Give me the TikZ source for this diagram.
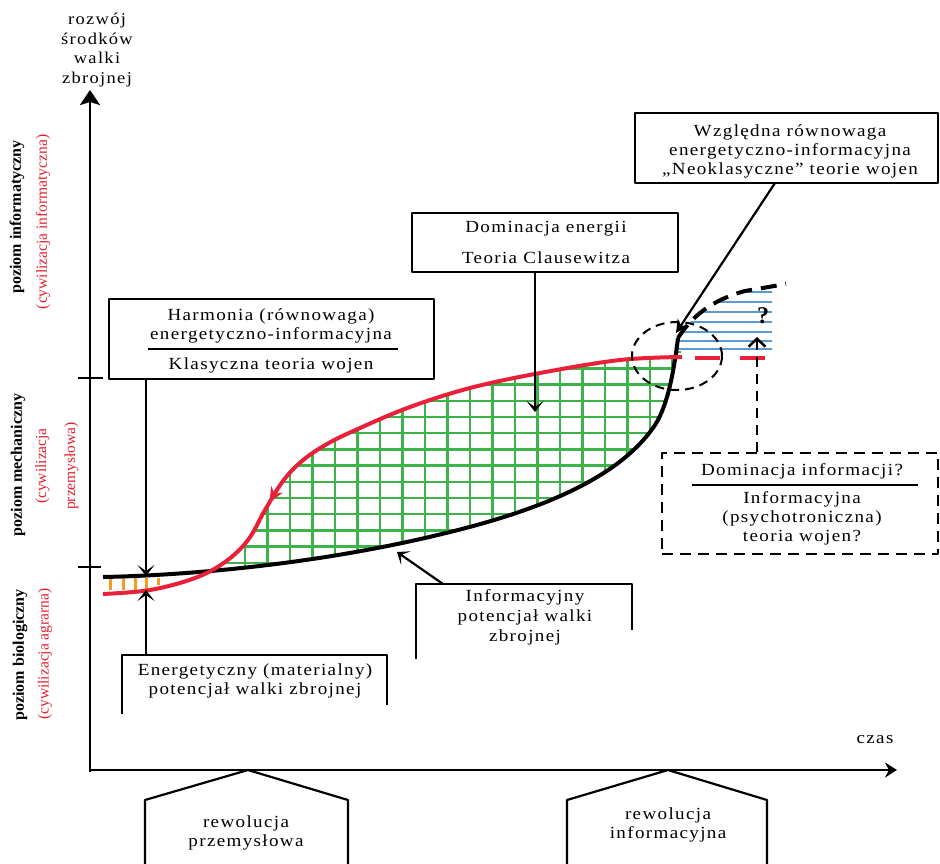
\documentclass[tikz,border=0pt]{standalone}
\usepackage{fontspec}
\setmainfont{Liberation Serif}
\newfontfamily\spfont[LetterSpace=8,FakeStretch=1.12]{Liberation Serif}
\usetikzlibrary{arrows.meta,decorations.markings,calc}
\definecolor{cred}{HTML}{E8203A}
\definecolor{lred}{HTML}{E5202E}
\definecolor{cgreen}{HTML}{3DB449}
\definecolor{cblue}{HTML}{5B9BD5}
\definecolor{corange}{HTML}{F39C1F}
\newcommand{\redpts}{(103,594) (150,590) (195,578) (225,562) (248,540) (265,510) (283,481) (302,461) (327,444) (360,428) (410,407) (470,388) (540,373) (620,360) (682,357)}
\begin{document}
\begin{tikzpicture}[x=1pt,y=-1pt,line join=round,
  txt/.style={font=\spfont\fontsize{17}{18.5}\selectfont,align=center,inner sep=0},
  smalltxt/.style={font=\spfont\fontsize{17}{19.5}\selectfont,align=center,inner sep=0},
  boxline/.style={line width=2.2pt},
  lvl/.style={font=\bfseries\fontsize{16}{18}\selectfont,rotate=90,inner sep=0},
  civ/.style={font=\fontsize{15.5}{29}\selectfont,text=lred,rotate=90,align=center,inner sep=0},
  conn/.style={line width=2.2pt},
  tipA/.style={-{Stealth[length=11pt,width=17pt,inset=6pt]}},
  redcurve/.style={cred,line width=4pt},
  blackcurve/.style={line width=4pt},
  grid/.style={cgreen,line width=2.3pt},
  bline/.style={cblue,line width=1.8pt}]
\useasboundingbox (0,0) rectangle (940,863);

% ---------- green grid between the curves ----------
\begin{scope}
  \clip (222,300) rectangle (700,600);
  \clip plot[smooth,tension=0.6] coordinates {\redpts}
        -- (678,338)
        .. controls (674,370) and (668,405) .. (655,425)
        .. controls (625,470) and (560,505) .. (450,532)
        .. controls (330,562) and (200,575) .. (103,577) -- cycle;
  \foreach \k in {0,...,19} \draw[grid] ({245+22.5*\k},300) -- ({245+22.5*\k},600);
  \foreach \k in {-4,...,9} \draw[grid] (200,{417+16.2*\k}) -- (700,{417+16.2*\k});
\end{scope}

% ---------- blue lines ----------
\begin{scope}
  \clip (674,355) -- (678,338) .. controls (692,316) and (712,300) .. (745,291) -- (772,287) -- (772,355) -- cycle;
  \foreach \yy in {292,302,312,322,332,341,349} \draw[bline] (660,\yy) -- (772,\yy);
\end{scope}

% ---------- orange ticks ----------
\foreach \xx in {110,123,135,146} \draw[corange,line width=3pt] (\xx,578) -- (\xx,590);
\draw[corange,line width=3pt] (158,578) -- (158,585);

% ---------- curves ----------
\draw[blackcurve] (103,577) .. controls (200,575) and (330,562) .. (450,532)
      .. controls (560,505) and (625,470) .. (655,425)
      .. controls (668,405) and (674,370) .. (678,338);
\draw[blackcurve,dash pattern=on 16pt off 9pt] (678,338) .. controls (692,316) and (712,300) .. (745,291) -- (786,284);

\draw[redcurve,postaction={decorate},
      decoration={markings,mark=at position 0.31 with {\arrowreversed{Stealth[length=15pt,width=13pt]}}}]
      plot[smooth,tension=0.6] coordinates {\redpts};
\draw[redcurve] (695,358) -- (720,358);
\draw[redcurve] (740,358) -- (765,358);

% dashed circle
\draw[line width=2pt,dash pattern=on 9pt off 6pt] (677,356) ellipse [x radius=45pt,y radius=34pt];
\node[font=\bfseries\fontsize{24}{24}\selectfont,inner sep=0] (q) at (763,316) {?};

% ---------- axes ----------
\coordinate (O) at (90,770);
\coordinate (ytop) at (90,90);
\coordinate (xend) at (897,770);
\draw[line width=2.8pt,-{Stealth[length=15pt,width=20pt,inset=3pt]}] (90,772) -- (ytop);
\draw[line width=2.8pt,-{Stealth[length=12pt,width=15pt,inset=4pt]}] (88.6,770) -- (xend);
\coordinate (t1a) at (78,378); \coordinate (t1b) at (103,378);
\coordinate (t2a) at (78,567); \coordinate (t2b) at (101,567);
\draw[line width=2.2pt] (t1a) -- (t1b);
\draw[line width=2.2pt] (t2a) -- (t2b);

\node[txt,font=\spfont\fontsize{16.5}{19.5}\selectfont] (yl) at (97,50) {rozwój\\środków\\walki\\zbrojnej};
\node[txt] (xl) at (875,740) {czas};

% ---------- level labels ----------
\node[lvl] (l1) at (17,217) {poziom informatyczny};
\node[civ] (c1) at (43,222) {(cywilizacja informatyczna)};
\node[lvl] (l2) at (18,465) {poziom mechaniczny};
\node[civ] (c2) at (57,466) {(cywilizacja\\przemysłowa)};
\node[lvl] (l3) at (20,655) {poziom biologiczny};
\node[civ] (c3) at (45,654) {(cywilizacja agrarna)};

% ---------- Harmonia box ----------
\node[draw,boxline,minimum width=325pt,minimum height=80pt,inner sep=0] (harm) at (271.5,339) {};
\node[txt] (harm1) at (271,326) {Harmonia (równowaga)\\energetyczno-informacyjna};
\node[txt] (harm2) at (271,365) {Klasyczna teoria wojen};
\draw[line width=1.8pt] (148,349) -- (398,349);
\coordinate (eA) at (146,576);
\coordinate (eB) at (146,590);
\draw[conn,tipA] (harm.south -| eA) -- (eA);

% ---------- Energetyczny open box ----------
\draw[boxline] (122,714) -- (122,655) -- (387,655) -- (387,705);
\coordinate (enTop) at (146,655);
\node[txt] (en) at (255,681) {Energetyczny (materialny)\\potencjał walki zbrojnej};
\draw[conn,tipA] (enTop) -- (eB);

% ---------- Informacyjny open box ----------
\draw[boxline] (416,659) -- (416,584) -- (632,584) -- (632,630);
\node[txt,font=\spfont\fontsize{17}{20}\selectfont] (inf) at (525,617) {Informacyjny\\potencjał walki\\zbrojnej};
\coordinate (infTop) at (443,584);
\coordinate (infTip) at (397,552);
\draw[conn,tipA] (infTop) -- (infTip);

% ---------- Dominacja energii ----------
\node[draw,boxline,minimum width=266pt,minimum height=59pt,inner sep=0] (dom) at (545,242.5) {};
\node[txt] (dom1) at (546,229) {Dominacja energii};
\node[txt] (dom2) at (546,258) {Teoria Clausewitza};
\coordinate (domTip) at (535,412);
\draw[conn,tipA] (dom.south -| domTip) -- (domTip);

% ---------- Względna box ----------
\node[draw,boxline,minimum width=303pt,minimum height=70pt,inner sep=0] (wzg) at (786.5,148) {};
\node[txt,font=\spfont\fontsize{17}{19}\selectfont] (wzgt) at (790,151) {Względna równowaga\\energetyczno-informacyjna\\„Neoklasyczne” teorie wojen};
\coordinate (wzgFrom) at (775,183);
\coordinate (wzgTip) at (676,333);
\draw[conn,-{Stealth[length=13pt,width=13pt,inset=4pt]}] (wzgFrom) -- (wzgTip);

% ---------- Dominacja informacji (dashed) ----------
\node[draw,line width=2.5pt,dash pattern=on 11pt off 7pt,minimum width=276pt,minimum height=101pt,inner sep=0] (dinf) at (800,503.5) {};
\node[txt] (dinf1) at (802,471) {Dominacja informacji?};
\draw[line width=1.8pt] (692,485) -- (918,485);
\node[txt,font=\spfont\fontsize{17}{19}\selectfont] (dinf2) at (802,518) {Informacyjna\\(psychotroniczna)\\teoria wojen?};
\coordinate (dinfTip) at (757,337);
\draw[line width=2.5pt,dash pattern=on 10pt off 7pt,-{Straight Barb[length=8pt,width=17pt,line width=2.5pt]}] (dinf.north -| dinfTip) -- (dinfTip);

% ---------- revolutions ----------
\draw[boxline] (145,866) -- (145,800) -- (248,770) -- (348,800) -- (348,866);
\node[smalltxt] (rev1) at (246,833) {rewolucja\\przemysłowa};
\draw[boxline] (567,866) -- (567,800) -- (668,770) -- (767,800) -- (767,866);
\node[smalltxt] (rev2) at (668,825) {rewolucja\\informacyjna};
\end{tikzpicture}
\end{document}
